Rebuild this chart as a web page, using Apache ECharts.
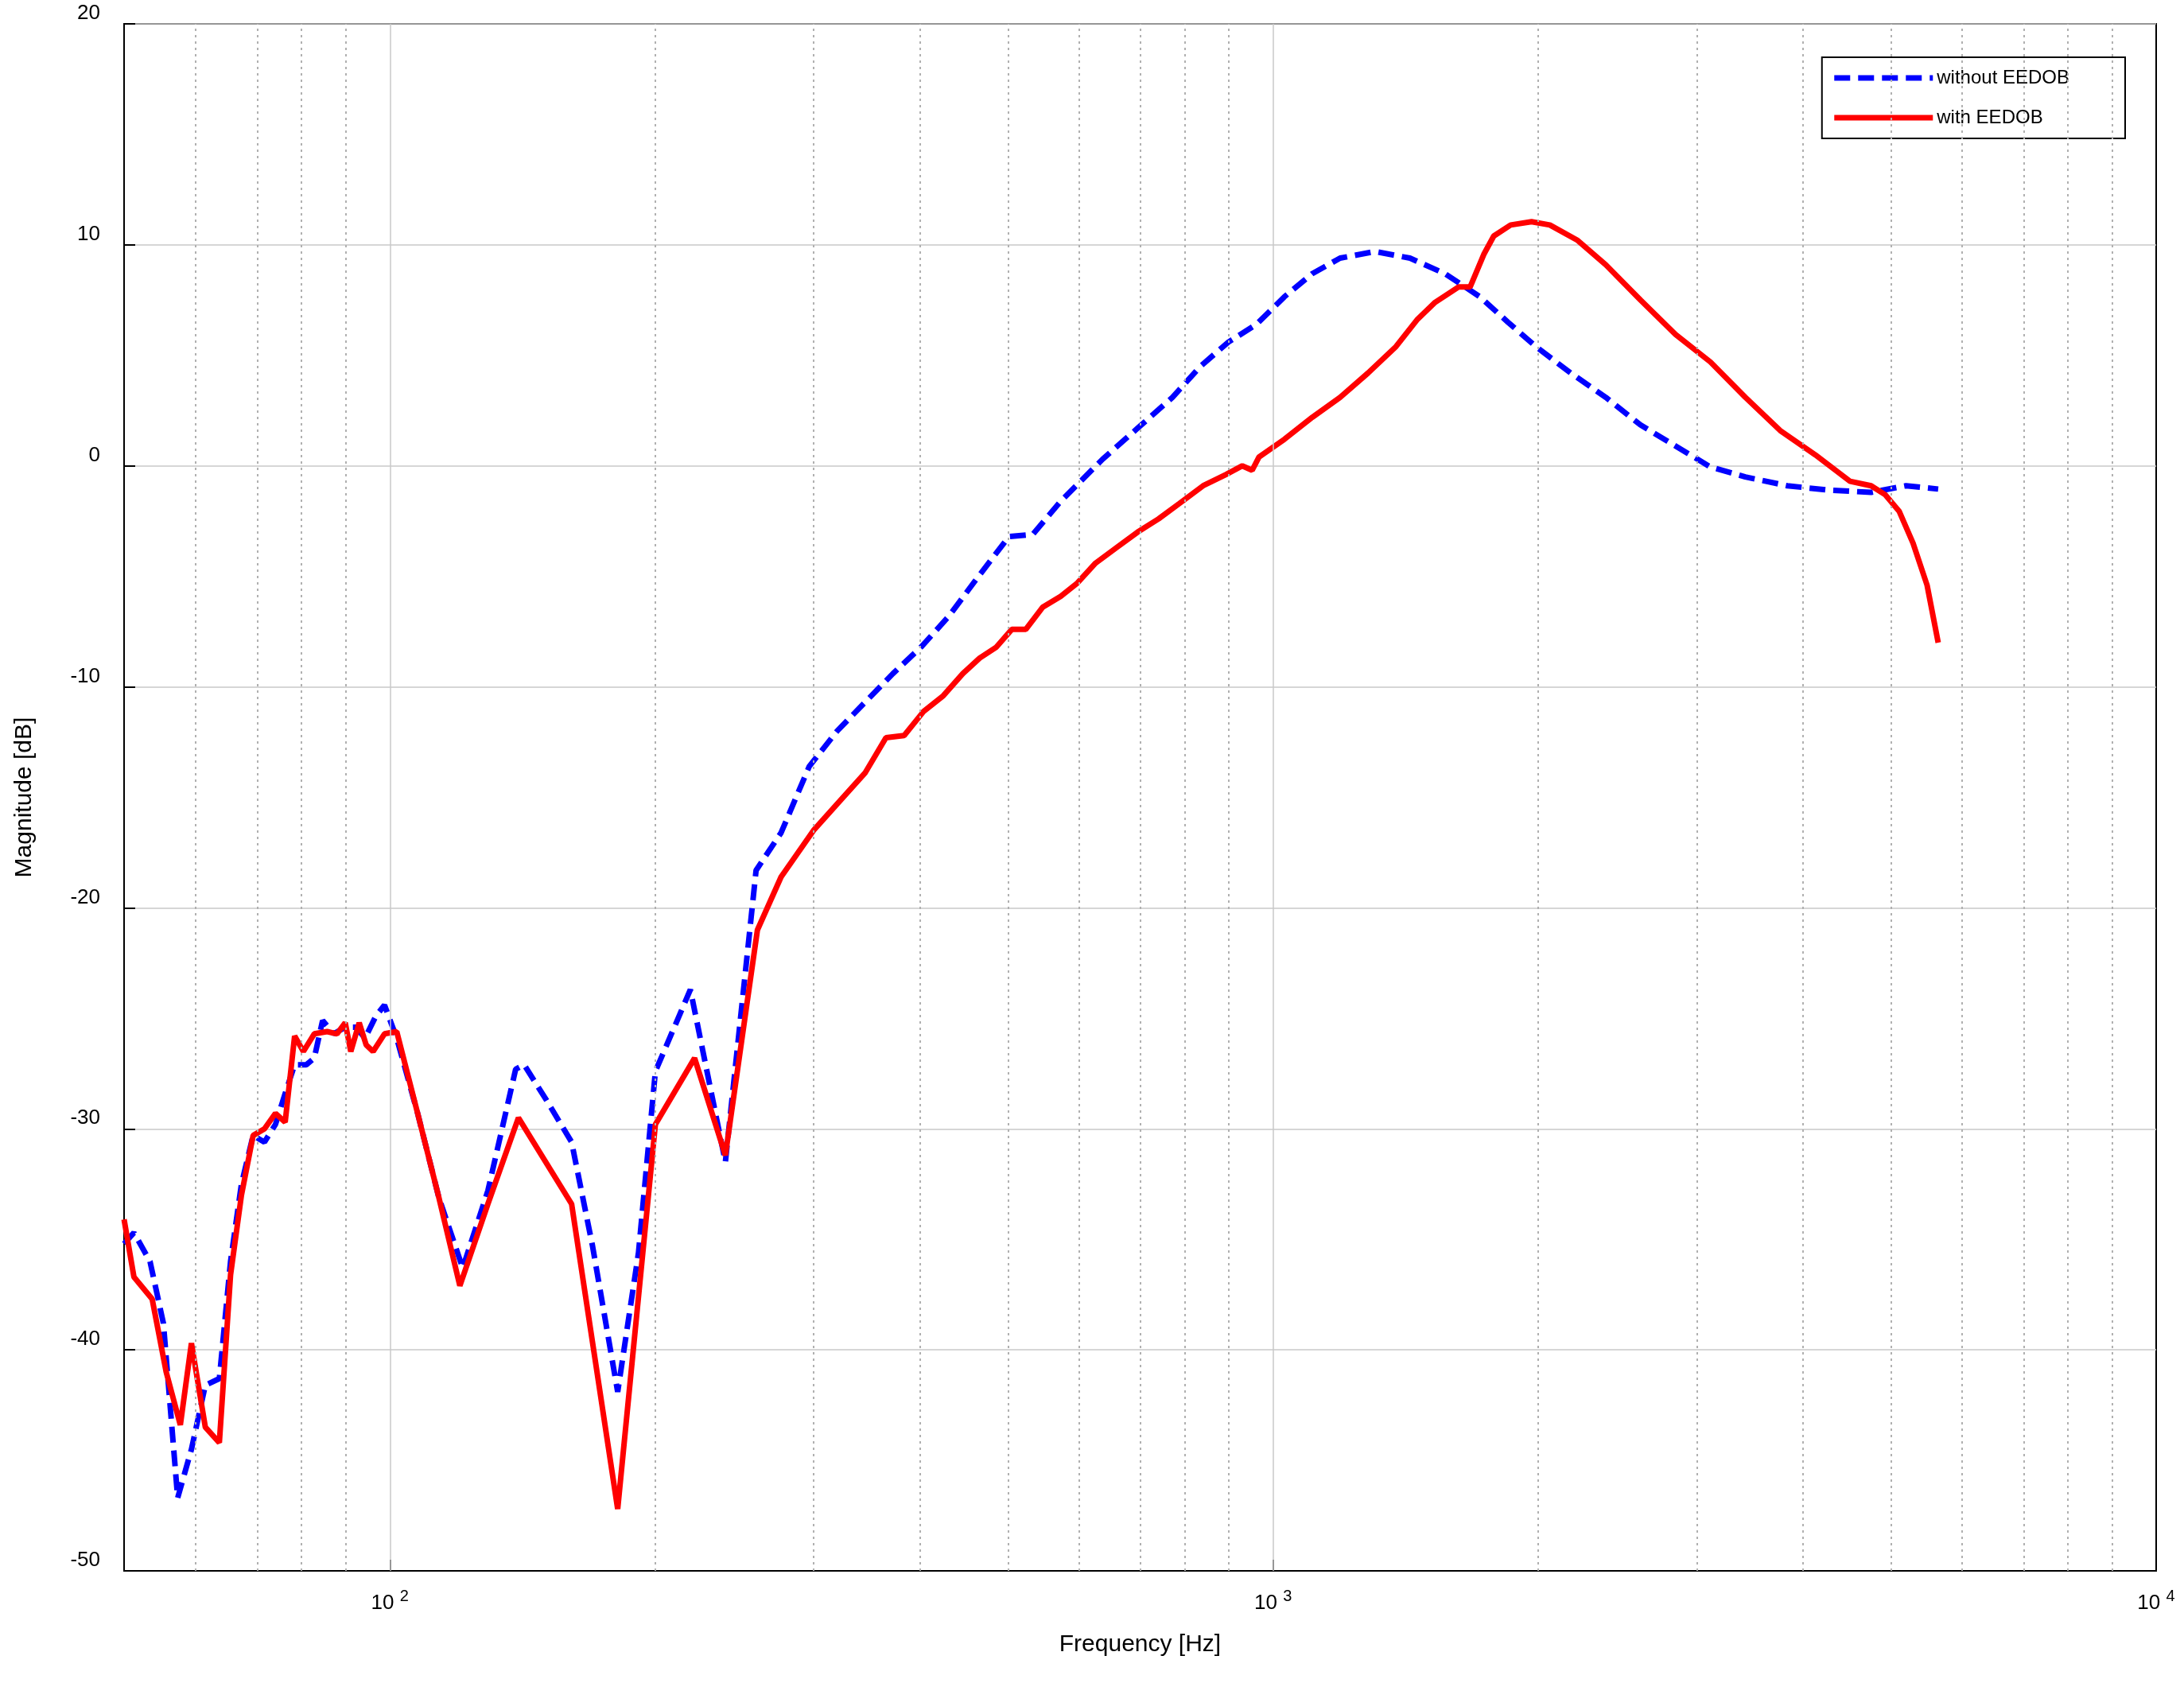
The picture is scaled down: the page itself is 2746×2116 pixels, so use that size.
<!DOCTYPE html>
<html>
<head>
<meta charset="utf-8">
<script src="https://cdn.jsdelivr.net/npm/echarts@6/dist/echarts.min.js"></script>
<style>html,body{margin:0;padding:0;background:#fff}#chart{width:2746px;height:2116px}</style>
</head>
<body>
<div id="chart"></div>
<script>
// frequencies in Hz, magnitudes in dB
var freqWithout = [50, 51.3, 53.5, 55.4, 57.5, 59.6, 61.8, 64.1, 66.0, 67.9, 70.0, 72.1, 74.2, 76.1, 78.0, 80.4, 82.1, 83.9, 86.4, 89.0, 91.6, 93.7, 96.4, 98.6, 101.8, 107.5, 113.6, 120.9, 129.1, 138.8, 141.9, 150.4, 160.6, 169.6, 181.1, 191.2, 199.8, 218.9, 239.8, 259.8, 277.3, 298.4, 320.9, 345.1, 371.2, 399.4, 429.5, 461.9, 502.3, 534.5, 574.9, 641.2, 702.4, 769.3, 827.4, 890.1, 957.2, 1030, 1108, 1191, 1305, 1429, 1565, 1715, 1845, 1984, 2173, 2381, 2607, 2856, 3128, 3426, 3822, 4265, 4756, 5210, 5665];
var dbWithout = [-35.2, -34.7, -36.0, -38.8, -46.7, -44.5, -41.6, -41.3, -36.0, -32.5, -30.3, -30.6, -29.8, -28.4, -27.1, -27.1, -26.8, -25.1, -25.7, -25.4, -25.4, -25.9, -24.9, -24.4, -25.9, -29.3, -33.1, -36.3, -32.8, -27.3, -27.1, -28.7, -30.6, -35.3, -41.9, -35.6, -27.4, -23.7, -31.5, -18.3, -16.6, -13.6, -12.0, -10.7, -9.4, -8.2, -6.8, -5.1, -3.2, -3.1, -1.6, 0.3, 1.7, 3.1, 4.5, 5.6, 6.4, 7.65, 8.7, 9.4, 9.7, 9.4, 8.7, 7.65, 6.5, 5.4, 4.2, 3.1, 1.85, 0.9, -0.05, -0.5, -0.9, -1.1, -1.2, -0.9, -1.05];

var freqWith = [50, 51.3, 53.8, 55.8, 57.9, 59.6, 61.8, 64.1, 66.0, 67.9, 70.0, 72.1, 74.2, 76.1, 78.0, 79.8, 82.1, 84.9, 87.1, 89.0, 90.3, 92.3, 94.0, 95.7, 98.6, 101.8, 107.5, 113.6, 120.0, 129.1, 139.8, 160.6, 181.1, 199.8, 221.3, 239.8, 260.7, 277.3, 301.7, 320.9, 345.1, 364.5, 382.2, 402.3, 423.3, 445.4, 465.4, 486.1, 506.0, 524.8, 548.3, 574.9, 600.5, 629.6, 664.9, 702.4, 741.9, 783.4, 833.4, 883.6, 923, 947, 964, 1030, 1108, 1191, 1281, 1378, 1455, 1526, 1623, 1672, 1734, 1778, 1858, 1962, 2058, 2213, 2381, 2607, 2856, 3128, 3426, 3752, 4111, 4503, 4756, 4932, 5116, 5305, 5503, 5665];
var dbWith = [-34.1, -36.7, -37.7, -41.0, -43.4, -39.7, -43.5, -44.2, -36.6, -33.0, -30.3, -30.0, -29.3, -29.7, -25.8, -26.5, -25.7, -25.6, -25.7, -25.2, -26.5, -25.2, -26.2, -26.5, -25.7, -25.6, -29.3, -33.1, -37.1, -33.4, -29.5, -33.4, -47.2, -29.8, -26.8, -31.2, -21.0, -18.6, -16.5, -15.3, -13.9, -12.3, -12.2, -11.1, -10.4, -9.4, -8.7, -8.2, -7.4, -7.4, -6.4, -5.9, -5.3, -4.4, -3.7, -3.0, -2.4, -1.7, -0.9, -0.4, 0.0, -0.2, 0.4, 1.2, 2.2, 3.1, 4.2, 5.4, 6.6, 7.4, 8.1, 8.1, 9.6, 10.4, 10.9, 11.05, 10.9, 10.2, 9.1, 7.5, 5.95, 4.7, 3.1, 1.6, 0.5, -0.7, -0.9, -1.3, -2.05, -3.5, -5.4, -8.0];

var majorFreqs = [100, 1000];
var minorFreqs = [60, 70, 80, 90, 200, 300, 400, 500, 600, 700, 800, 900, 2000, 3000, 4000, 5000, 6000, 7000, 8000, 9000];
var decadeLabels = [2, 3, 4];

function pairs(f, d) {
    return f.map(function (v, i) { return [Math.log10(v), d[i]]; });
}

var myChart = echarts.init(document.getElementById('chart'));

var gridLines = majorFreqs.map(function (v) {
    return { xAxis: Math.log10(v), lineStyle: { type: 'solid', color: '#c8c8c8', width: 1.5 } };
}).concat(minorFreqs.map(function (v) {
    return { xAxis: Math.log10(v), lineStyle: { type: [3, 5], color: '#b0b0b0', width: 2 } };
}));

var option = {
    animation: false,
    textStyle: { fontFamily: 'Liberation Sans, Arial, sans-serif' },
    grid: { left: 156, right: 35, top: 30, bottom: 141, show: true, borderColor: '#000', borderWidth: 2 },
    legend: {
        right: 74, top: 72, orient: 'vertical',
        borderColor: '#000', borderWidth: 2, backgroundColor: '#fff',
        padding: [14, 70, 14, 12], itemGap: 26,
        itemWidth: 124, itemHeight: 14,
        itemStyle: { opacity: 0 },
        lineStyle: { width: 7 },
        textStyle: { fontSize: 24, color: '#000' },
        data: ['without EEDOB', 'with EEDOB']
    },
    xAxis: {
        type: 'value',
        min: Math.log10(50), max: 4,
        name: 'Frequency [Hz]', nameLocation: 'middle', nameGap: 78,
        nameTextStyle: { fontSize: 30, color: '#000' },
        axisLine: { onZero: false, lineStyle: { color: '#000', width: 2 } },
        splitLine: { show: false },
        axisTick: { show: true, customValues: decadeLabels, inside: true, length: 14, lineStyle: { color: '#000', width: 2 } },
        axisLabel: {
            customValues: decadeLabels, margin: 22,
            formatter: function (v) { return '{b|10 }{s|' + Math.round(v) + '}'; },
            rich: { b: { fontSize: 26, color: '#000' }, s: { fontSize: 20, color: '#000', verticalAlign: 'top', padding: [0, 0, 18, 0] } }
        }
    },
    yAxis: {
        type: 'value', min: -50, max: 20, interval: 10,
        name: 'Magnitude [dB]', nameLocation: 'middle', nameGap: 110, nameRotate: 90,
        nameTextStyle: { fontSize: 30, color: '#000' },
        axisLine: { show: true, onZero: false, lineStyle: { color: '#000', width: 2 } },
        axisTick: { inside: true, length: 14, lineStyle: { color: '#000', width: 2 } },
        axisLabel: { fontSize: 26, color: '#000', margin: 30, verticalAlign: 'bottom' },
        splitLine: { lineStyle: { color: '#c8c8c8', width: 1.5 } }
    },
    series: [
        {
            name: 'without EEDOB', type: 'line', symbol: 'none',
            data: pairs(freqWithout, dbWithout),
            itemStyle: { color: '#0000ff' },
            lineStyle: { color: '#0000ff', width: 7, type: [20, 10] },
            markLine: { silent: true, symbol: 'none', label: { show: false }, data: gridLines },
            z: 3
        },
        {
            name: 'with EEDOB', type: 'line', symbol: 'none',
            data: pairs(freqWith, dbWith),
            itemStyle: { color: '#ff0000' },
            lineStyle: { color: '#ff0000', width: 7 },
            z: 4
        }
    ]
};

myChart.setOption(option);
window.addEventListener("resize", function () {
    myChart.resize();
});
</script>
</body>
</html>
